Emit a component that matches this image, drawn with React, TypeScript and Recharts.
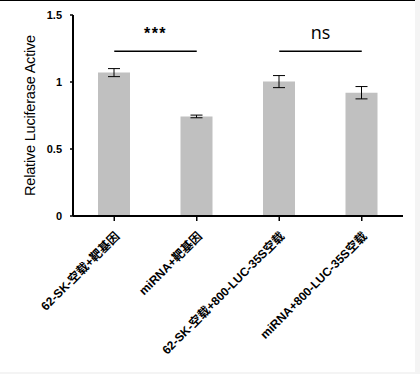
import { BarChart, Bar, XAxis, YAxis, ErrorBar, ReferenceLine } from 'recharts';

const categories = [
  '62-SK-空载+靶基因',
  'miRNA+靶基因',
  '62-SK-空载+800-LUC-35S空载',
  'miRNA+800-LUC-35S空载',
];
const means = [1.07, 0.743, 1.003, 0.92];
const errors = [0.03, 0.01, 0.045, 0.046];
const yTicks = [0, 0.5, 1, 1.5];
const sigFrom = [0, 2];
const sigTo = [1, 3];
const sigLabels = ['***', 'ns'];
const sigLevel = 1.23;

const font = '"Liberation Sans", Arial, "Noto Sans CJK SC", sans-serif';

const data = categories.map((name, i) => ({ name, value: means[i], err: errors[i] }));

function XTick({ x, y, payload }: any) {
  const ax = x + 6;
  const ay = y + 14;
  return (
    <text
      x={ax}
      y={ay}
      transform={`rotate(-45, ${ax}, ${ay})`}
      textAnchor="end"
      fontSize={12}
      fontWeight="bold"
      fontFamily={font}
      fill="#000"
    >
      {payload.value}
    </text>
  );
}

export default function App() {
  return (
    <div style={{ position: 'absolute', left: 0, top: 0, width: 420, height: 374, background: '#f4f4f4' }}>
      <div style={{ width: 415, height: 372, background: '#fff', borderTop: '1px solid #000', boxSizing: 'border-box' }}>
        <BarChart
          width={415}
          height={371}
          data={data}
          margin={{ top: 14, right: 12, left: 0, bottom: 6 }}
          barSize={32}
        >
          <XAxis
            dataKey="name"
            interval={0}
            height={150}
            tick={<XTick />}
            tickSize={5}
            axisLine={{ stroke: '#000', strokeWidth: 2 }}
            tickLine={{ stroke: '#000', strokeWidth: 1.5 }}
          />
          <YAxis
            width={73}
            domain={[0, 1.5]}
            ticks={yTicks}
            tickSize={3}
            tickMargin={8}
            axisLine={{ stroke: '#000', strokeWidth: 2 }}
            tickLine={{ stroke: '#000', strokeWidth: 1.5 }}
            tick={{ fill: '#000', fontSize: 11, fontWeight: 'bold', fontFamily: font }}
            label={{
              value: 'Relative Luciferase Active',
              angle: -90,
              position: 'insideLeft',
              offset: 30,
              style: { textAnchor: 'middle', fill: '#000', fontSize: 14.5, letterSpacing: -0.2, fontFamily: font },
            }}
          />
          <Bar dataKey="value" fill="#c0c0c0" isAnimationActive={false}>
            <ErrorBar dataKey="err" width={6} stroke="#000" strokeWidth={1} direction="y" />
          </Bar>
          {sigLabels.map((lab, i) => (
            <ReferenceLine
              key={lab}
              segment={[
                { x: categories[sigFrom[i]], y: sigLevel },
                { x: categories[sigTo[i]], y: sigLevel },
              ]}
              stroke="#000"
              strokeWidth={1.5}
              ifOverflow="visible"
              label={{
                value: lab,
                position: 'top',
                offset: lab === 'ns' ? 12 : 12,
                fill: '#000',
                fontSize: lab === 'ns' ? 18 : 16,
                fontWeight: lab === 'ns' ? 'normal' : 'bold',
                letterSpacing: lab === 'ns' ? 0 : 1.5,
                fontFamily: lab === 'ns' ? '"Open Sans", sans-serif' : font,
              }}
            />
          ))}
        </BarChart>
      </div>
    </div>
  );
}
